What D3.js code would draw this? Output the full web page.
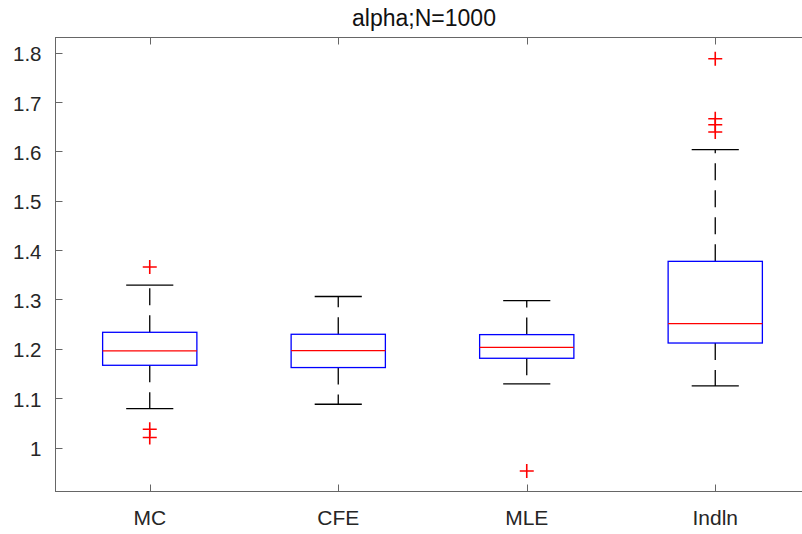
<!DOCTYPE html>
<html><head><meta charset="utf-8">
<script src="https://cdn.jsdelivr.net/npm/d3@7"></script>
<style>body{margin:0;background:#fff}svg{display:block}</style>
</head><body>
<script>
const categories = ["MC", "CFE", "MLE", "Indln"];
const q1 = [1.1666, 1.1620, 1.1808, 1.2117];
const medians = [1.1956, 1.1963, 1.2030, 1.2510];
const q3 = [1.2334, 1.2294, 1.2287, 1.3771];
const whiskerLow = [1.0790, 1.0877, 1.1288, 1.1247];
const whiskerHigh = [1.3290, 1.3059, 1.2976, 1.6032];
const outliers = [[1.3656, 1.0372, 1.0204], [], [0.9526], [1.7874, 1.6660, 1.6538, 1.6389]];
const yTicks = [1, 1.1, 1.2, 1.3, 1.4, 1.5, 1.6, 1.7, 1.8];
const title = "alpha;N=1000";

(function () {
const W = 802, H = 534;
const pLeft = 55.5, pRight = 809.5, pTop = 37.5, pBottom = 491.5;
const font = "'Liberation Sans', Arial, Helvetica, sans-serif";

const svg = d3.select("body").append("svg").attr("width", W).attr("height", H)
  .style("font-family", font);

const x = d3.scaleLinear().domain([0.5, 4.5]).range([pLeft, pRight]);
const y = d3.scaleLinear().domain([0.911, 1.8304]).range([pBottom, pTop]);

const data = categories.map((c, i) => ({
  c, i: i + 1, q1: q1[i], med: medians[i], q3: q3[i],
  lo: whiskerLow[i], hi: whiskerHigh[i], out: outliers[i]
}));

const plot = svg.append("g");
const g = plot.selectAll("g.box").data(data).enter().append("g").attr("class", "box");

// whiskers (dashed, from box outward)
g.append("line")
  .attr("x1", d => x(d.i)).attr("x2", d => x(d.i))
  .attr("y1", d => y(d.q3)).attr("y2", d => y(d.hi))
  .attr("stroke", "#000").attr("stroke-width", 1.3).attr("stroke-dasharray", "17,10");
g.append("line")
  .attr("x1", d => x(d.i)).attr("x2", d => x(d.i))
  .attr("y1", d => y(d.q1)).attr("y2", d => y(d.lo))
  .attr("stroke", "#000").attr("stroke-width", 1.3).attr("stroke-dasharray", "17,10");
// caps
["hi", "lo"].forEach(k => {
  g.append("line")
    .attr("x1", d => x(d.i - 0.125)).attr("x2", d => x(d.i + 0.125))
    .attr("y1", d => y(d[k])).attr("y2", d => y(d[k]))
    .attr("stroke", "#000").attr("stroke-width", 1.3);
});
// boxes
g.append("rect")
  .attr("x", d => x(d.i - 0.25)).attr("width", d => x(d.i + 0.25) - x(d.i - 0.25))
  .attr("y", d => y(d.q3)).attr("height", d => y(d.q1) - y(d.q3))
  .attr("fill", "none").attr("stroke", "#0000ff").attr("stroke-width", 1.3);
// medians
g.append("line")
  .attr("x1", d => x(d.i - 0.25)).attr("x2", d => x(d.i + 0.25))
  .attr("y1", d => y(d.med)).attr("y2", d => y(d.med))
  .attr("stroke", "#ff0000").attr("stroke-width", 1.3);
// outliers
g.each(function (d) {
  d3.select(this).selectAll("path.o").data(d.out).enter().append("path")
    .attr("class", "o")
    .attr("d", v => {
      const cx = x(d.i), cy = y(v), r = 7;
      return `M${cx - r},${cy}H${cx + r}M${cx},${cy - r}V${cy + r}`;
    })
    .attr("stroke", "#ff0000").attr("stroke-width", 1.6).attr("fill", "none");
});

// axes box
const axisColor = "#666";
svg.append("rect").attr("x", pLeft).attr("y", pTop)
  .attr("width", pRight - pLeft).attr("height", pBottom - pTop)
  .attr("fill", "none").attr("stroke", axisColor).attr("stroke-width", 1);

// y ticks (inward, left side)
const fmt = d3.format(".1~f");
const yt = svg.append("g");
yTicks.forEach(t => {
  const py = Math.round(y(t)) + 0.5;
  yt.append("line").attr("x1", pLeft).attr("x2", pLeft + 7)
    .attr("y1", py).attr("y2", py).attr("stroke", axisColor);
  yt.append("text").attr("x", pLeft - 14).attr("y", y(t)).attr("dy", "0.42em")
    .attr("text-anchor", "end").attr("font-size", 20.5).attr("fill", "#262626")
    .text(fmt(t));
});

// x ticks (inward, bottom and top)
const xt = svg.append("g");
data.forEach(d => {
  const px = Math.round(x(d.i)) + 0.5;
  xt.append("line").attr("x1", px).attr("x2", px).attr("y1", pBottom).attr("y2", pBottom - 7).attr("stroke", axisColor);
  xt.append("line").attr("x1", px).attr("x2", px).attr("y1", pTop).attr("y2", pTop + 7).attr("stroke", axisColor);
  xt.append("text").attr("x", x(d.i)).attr("y", 525)
    .attr("text-anchor", "middle").attr("font-size", 21).attr("fill", "#262626")
    .text(d.c);
});

// title
svg.append("text").attr("x", 424).attr("y", 26).attr("text-anchor", "middle")
  .attr("font-size", 23).attr("fill", "#111").text(title);
})();
</script>
</body></html>
